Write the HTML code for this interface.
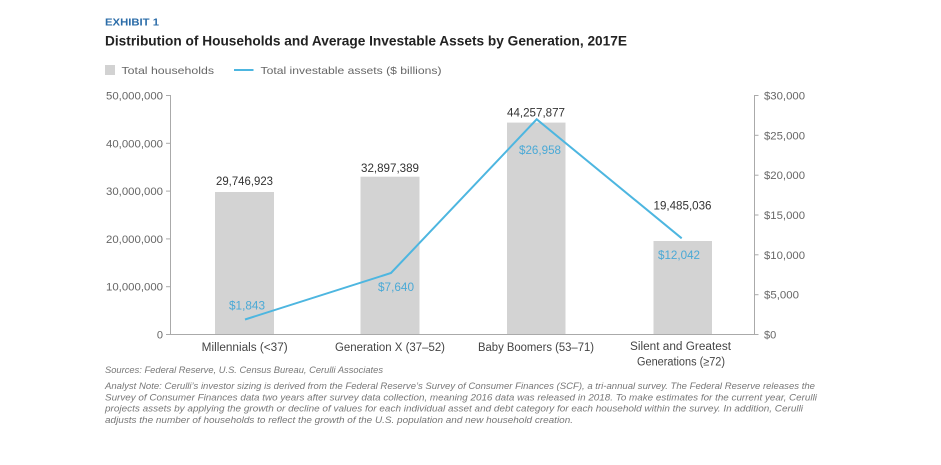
<!DOCTYPE html>
<html><head><meta charset="utf-8"><style>
html,body{margin:0;padding:0;background:#fff;}
svg{display:block;}
text{font-family:"Liberation Sans",Arial,sans-serif;}
</style></head><body>
<svg width="941" height="465" viewBox="0 0 941 465" xmlns="http://www.w3.org/2000/svg">
<rect width="941" height="465" fill="#fff"/>
<text x="105" y="25.5" font-size="10.5" font-weight="bold" fill="#2b6ca8" textLength="54" lengthAdjust="spacingAndGlyphs">EXHIBIT 1</text>
<text x="105" y="45.5" font-size="14" font-weight="bold" fill="#222" textLength="522" lengthAdjust="spacingAndGlyphs">Distribution of Households and Average Investable Assets by Generation, 2017E</text>
<rect x="105" y="65" width="10" height="10" fill="#d2d2d2"/>
<text x="121.5" y="74" font-size="10.5" fill="#666" textLength="92.5" lengthAdjust="spacingAndGlyphs">Total households</text>
<line x1="234" y1="70" x2="253.5" y2="70" stroke="#4db6e0" stroke-width="2"/>
<text x="260.5" y="74" font-size="10.5" fill="#666" textLength="181" lengthAdjust="spacingAndGlyphs">Total investable assets ($ billions)</text>
<!-- bars -->
<g fill="#d3d3d3">
<rect x="215" y="192" width="59" height="142"/>
<rect x="360.5" y="176.7" width="59" height="157.3"/>
<rect x="507" y="122.6" width="58.5" height="211.4"/>
<rect x="653.5" y="241" width="58.5" height="93"/>
</g>
<!-- axes -->
<g stroke="#aaa" stroke-width="1" fill="none">
<line x1="170.5" y1="95" x2="170.5" y2="334.5"/>
<line x1="170.5" y1="334.5" x2="754.5" y2="334.5"/>
<line x1="754.5" y1="95" x2="754.5" y2="334.5"/>
<line x1="166" y1="95.5" x2="170.5" y2="95.5"/>
<line x1="166" y1="143.3" x2="170.5" y2="143.3"/>
<line x1="166" y1="191.1" x2="170.5" y2="191.1"/>
<line x1="166" y1="238.9" x2="170.5" y2="238.9"/>
<line x1="166" y1="286.7" x2="170.5" y2="286.7"/>
<line x1="166" y1="334.5" x2="170.5" y2="334.5"/>
<line x1="754.5" y1="95.5" x2="758.5" y2="95.5"/>
<line x1="754.5" y1="135.3" x2="758.5" y2="135.3"/>
<line x1="754.5" y1="175.2" x2="758.5" y2="175.2"/>
<line x1="754.5" y1="215" x2="758.5" y2="215"/>
<line x1="754.5" y1="254.8" x2="758.5" y2="254.8"/>
<line x1="754.5" y1="294.7" x2="758.5" y2="294.7"/>
<line x1="754.5" y1="334.5" x2="758.5" y2="334.5"/>
</g>
<!-- left tick labels -->
<g font-size="11" fill="#666" text-anchor="end">
<text x="163" y="99.5" textLength="57" lengthAdjust="spacingAndGlyphs">50,000,000</text>
<text x="163" y="147.3" textLength="57" lengthAdjust="spacingAndGlyphs">40,000,000</text>
<text x="163" y="195.1" textLength="57" lengthAdjust="spacingAndGlyphs">30,000,000</text>
<text x="163" y="242.9" textLength="57" lengthAdjust="spacingAndGlyphs">20,000,000</text>
<text x="163" y="290.7" textLength="57" lengthAdjust="spacingAndGlyphs">10,000,000</text>
<text x="163" y="338.5">0</text>
</g>
<!-- right tick labels -->
<g font-size="11" fill="#666">
<text x="764" y="99.5" textLength="41" lengthAdjust="spacingAndGlyphs">$30,000</text>
<text x="764" y="139.3" textLength="41" lengthAdjust="spacingAndGlyphs">$25,000</text>
<text x="764" y="179.2" textLength="41" lengthAdjust="spacingAndGlyphs">$20,000</text>
<text x="764" y="219" textLength="41" lengthAdjust="spacingAndGlyphs">$15,000</text>
<text x="764" y="258.8" textLength="41" lengthAdjust="spacingAndGlyphs">$10,000</text>
<text x="764" y="298.7" textLength="35" lengthAdjust="spacingAndGlyphs">$5,000</text>
<text x="764" y="338.5">$0</text>
</g>
<!-- line -->
<polyline points="245,319.5 391,273 536.7,119.3 681.7,238.3" fill="none" stroke="#4db6e0" stroke-width="2" stroke-linejoin="miter"/>
<!-- bar value labels -->
<g font-size="11.5" fill="#333" text-anchor="middle">
<text x="244.5" y="185" textLength="57" lengthAdjust="spacingAndGlyphs">29,746,923</text>
<text x="390" y="172" textLength="58" lengthAdjust="spacingAndGlyphs">32,897,389</text>
<text x="536" y="116.5" textLength="58" lengthAdjust="spacingAndGlyphs">44,257,877</text>
<text x="682.5" y="209.5" textLength="58" lengthAdjust="spacingAndGlyphs">19,485,036</text>
</g>
<!-- line value labels -->
<g font-size="11.5" fill="#4aa9d6" text-anchor="middle">
<text x="247" y="309.5" textLength="36" lengthAdjust="spacingAndGlyphs">$1,843</text>
<text x="396" y="291" textLength="36" lengthAdjust="spacingAndGlyphs">$7,640</text>
<text x="540" y="154" textLength="42" lengthAdjust="spacingAndGlyphs">$26,958</text>
<text x="679" y="259" textLength="42" lengthAdjust="spacingAndGlyphs">$12,042</text>
</g>
<!-- category labels -->
<g font-size="11.5" fill="#444" text-anchor="middle">
<text x="244.7" y="351" textLength="86" lengthAdjust="spacingAndGlyphs">Millennials (&lt;37)</text>
<text x="390" y="351" textLength="110" lengthAdjust="spacingAndGlyphs">Generation X (37–52)</text>
<text x="536" y="351" textLength="116" lengthAdjust="spacingAndGlyphs">Baby Boomers (53–71)</text>
<text x="680.5" y="350" textLength="101" lengthAdjust="spacingAndGlyphs">Silent and Greatest</text>
<text x="681" y="365.5" textLength="88" lengthAdjust="spacingAndGlyphs">Generations (≥72)</text>
</g>
<!-- sources / notes -->
<g font-size="9" font-style="italic" fill="#777">
<text x="105" y="373" textLength="278" lengthAdjust="spacingAndGlyphs">Sources: Federal Reserve, U.S. Census Bureau, Cerulli Associates</text>
<text x="105" y="389" textLength="710" lengthAdjust="spacingAndGlyphs">Analyst Note: Cerulli’s investor sizing is derived from the Federal Reserve’s Survey of Consumer Finances (SCF), a tri-annual survey. The Federal Reserve releases the</text>
<text x="105" y="400.3" textLength="712" lengthAdjust="spacingAndGlyphs">Survey of Consumer Finances data two years after survey data collection, meaning 2016 data was released in 2018. To make estimates for the current year, Cerulli</text>
<text x="105" y="411.6" textLength="698" lengthAdjust="spacingAndGlyphs">projects assets by applying the growth or decline of values for each individual asset and debt category for each household within the survey. In addition, Cerulli</text>
<text x="105" y="423" textLength="468" lengthAdjust="spacingAndGlyphs">adjusts the number of households to reflect the growth of the U.S. population and new household creation.</text>
</g>
</svg>
</body></html>
